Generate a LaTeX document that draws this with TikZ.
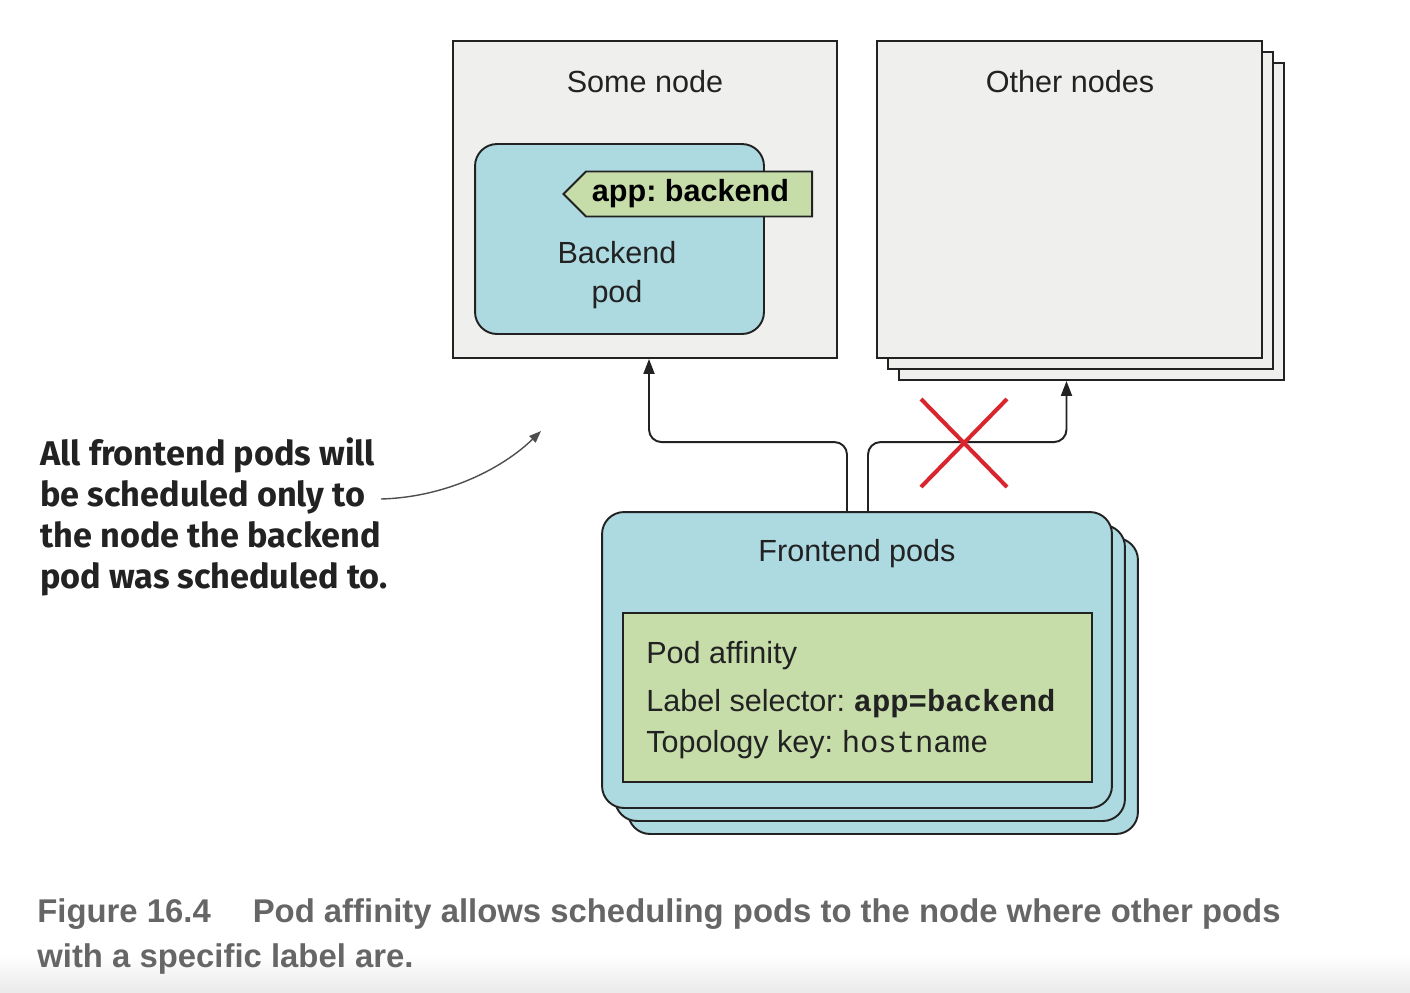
\documentclass[tikz,border=0pt]{standalone}
\usepackage{fontspec}
\setmainfont{Liberation Sans}
\setmonofont{Liberation Mono}
\newfontfamily\notefont{Fira Sans}
\usetikzlibrary{shapes.symbols,arrows.meta,calc}
\frenchspacing
\definecolor{hostgray}{HTML}{EFEFED}
\definecolor{podblue}{HTML}{ADDAE1}
\definecolor{affgreen}{HTML}{C6DDAA}
\definecolor{nored}{HTML}{D9262E}
\definecolor{capgray}{HTML}{666666}
\definecolor{lineblack}{HTML}{222222}

\begin{document}
\begin{tikzpicture}[x=0.02cm, y=-0.02cm,
    hostbox/.style={draw=lineblack, line width=1.1pt, fill=hostgray, inner sep=0pt},
    podbox/.style={draw=lineblack, line width=1.1pt, fill=podblue, rounded corners=0.44cm, inner sep=0pt},
    affbox/.style={draw=lineblack, line width=1.1pt, fill=affgreen, inner sep=0pt},
    tagbox/.style={signal, signal to=west, signal from=nowhere, signal pointer angle=90,
      draw=lineblack, line width=1.1pt, fill=affgreen, minimum height=0.9cm, inner xsep=0.12cm,
      font=\bfseries\fontsize{17.4}{20}\selectfont},
    lbl/.style={inner sep=0pt, text=lineblack, font=\fontsize{17.4}{22}\selectfont},
    link/.style={draw=lineblack, line width=1.1pt, rounded corners=0.25cm, -{Triangle[length=0.3cm,width=0.22cm]}},
    callout/.style={draw=lineblack!80, line width=0.8pt, -{Triangle[length=0.24cm,width=0.18cm]}},
    nocross/.style={draw=nored, line width=2.3pt},
    note/.style={inner sep=0pt, align=left, text=lineblack, font=\notefont\bfseries\fontsize{19.5}{23.25}\selectfont},
    caption/.style={inner sep=0pt, text=capgray, font=\bfseries\fontsize{18.7}{24}\selectfont}]
    \useasboundingbox (0,0) rectangle (1410,992);
    \shade[top color=white, bottom color=black!8] (0,955) rectangle (1410,992);

    % the node with the backend pod
    \node[hostbox, minimum width=7.68cm, minimum height=6.34cm] (some) at (645,199.5) {};
    \node[lbl, anchor=base] (somelbl) at (645,92) {Some node};
    \node[podbox, minimum width=5.78cm, minimum height=3.8cm] (backend) at (619.5,239) {};
    \node[lbl, align=center] (backendlbl) at (617,275) {Backend\\pod};
    \node[tagbox, anchor=east] (tag) at (813,194) {app: backend\kern0.34cm};

    % the other nodes
    \foreach \i/\d in {3/22,2/11,1/0}
      \node[hostbox, minimum width=7.7cm, minimum height=6.34cm] (other\i) at (1069.5+\d,199.5+\d) {};
    \node[lbl, anchor=base] (otherlbl) at (1070,92) {Other nodes};

    % the frontend pods
    \foreach \i/\d in {3/26,2/13,1/0}
      \node[podbox, minimum width=10.2cm, minimum height=5.92cm] (fe\i) at (857+\d,660+\d) {};
    \node[lbl, anchor=base] (felbl) at (857,561) {Frontend pods};
    \node[affbox, minimum width=9.38cm, minimum height=3.38cm] (affinity) at (857.5,697.5) {};
    \node[lbl, anchor=base west] (aff1) at (646,663) {Pod affinity};
    \node[lbl, anchor=base west] (aff2) at (646,711) {Label selector: \texttt{\bfseries app=backend}};
    \node[lbl, anchor=base west] (aff3) at (646,752) {Topology key: \texttt{hostname}};

    % scheduling
    \draw[link] ([xshift=-0.2cm]fe1.north) -- ++(0,-69) -| ($(some.south)+(4,0)$);
    \draw[link] ([xshift=0.22cm]fe1.north) -- ++(0,-69) -| ($(other1.south |- other3.south)+(-3,0)$);
    \coordinate (nox) at (964,443);
    \draw[nocross] ($(nox)+(-43,-44)$) -- ($(nox)+(43,44)$);
    \draw[nocross] ($(nox)+(43,-44)$) -- ($(nox)+(-43,44)$);

    % annotation
    \node[note, anchor=west] (note) at (40,517) {All frontend pods will\\be scheduled only to\\the node the backend\\pod was scheduled to.};
    \coordinate (notefrom) at (381,499);
    \coordinate (noteto) at (541,431);
    \draw[callout] (notefrom) .. controls (450,497) and (505,466) .. (noteto);

    % caption
    \node[caption, anchor=base west] (cap1) at (37,922) {Figure 16.4\hspace{0.84cm}Pod affinity allows scheduling pods to the node where other pods};
    \node[caption, anchor=base west] (cap2) at (37,967) {with a specific label are.};
\end{tikzpicture}
\end{document}
